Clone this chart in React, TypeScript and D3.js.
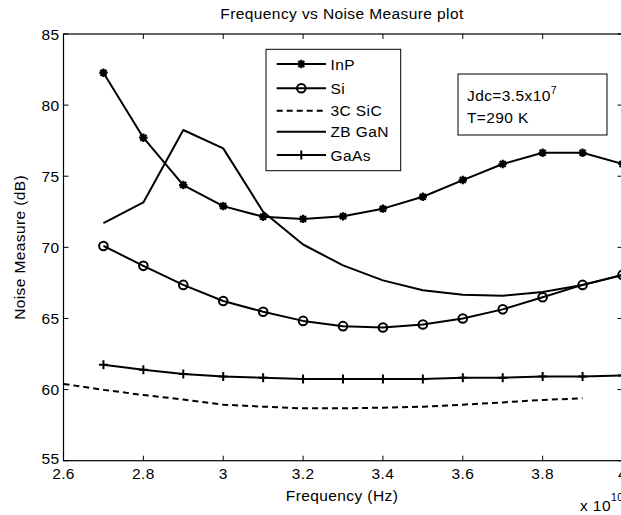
import React from 'react';
import * as d3 from 'd3';

const freqs = [2.7, 2.8, 2.9, 3.0, 3.1, 3.2, 3.3, 3.4, 3.5, 3.6, 3.7, 3.8, 3.9, 4.0];
const sicFreqs = [2.6, 2.7, 2.8, 2.9, 3.0, 3.1, 3.2, 3.3, 3.4, 3.5, 3.6, 3.7, 3.8, 3.9];
const inpValues = [82.28, 77.71, 74.38, 72.9, 72.15, 72.0, 72.18, 72.72, 73.56, 74.73, 75.86, 76.65, 76.65, 75.86];
const siValues = [70.1, 68.7, 67.36, 66.23, 65.47, 64.83, 64.46, 64.36, 64.58, 65.0, 65.64, 66.49, 67.36, 68.06];
const sic3cValues = [60.4, 59.98, 59.62, 59.3, 58.94, 58.8, 58.68, 58.68, 58.73, 58.8, 58.94, 59.1, 59.27, 59.39];
const zbGanValues = [71.7, 73.16, 78.25, 76.96, 72.5, 70.2, 68.73, 67.68, 66.98, 66.67, 66.6, 66.86, 67.35, 68.05];
const gaasValues = [61.75, 61.39, 61.1, 60.92, 60.83, 60.75, 60.75, 60.75, 60.75, 60.83, 60.83, 60.92, 60.92, 60.99];
const seriesNames = ['InP', 'Si', '3C SiC', 'ZB GaN', 'GaAs'];
const xTicks = [2.6, 2.8, 3.0, 3.2, 3.4, 3.6, 3.8, 4.0];
const yTicks = [55, 60, 65, 70, 75, 80, 85];

const FONT = '"Liberation Sans", Arial, sans-serif';
const FS = 15.5;
const LS = 0.4;

type Marker = 'star' | 'circle' | 'plus' | 'none';

function MarkerShape({ type, cx, cy }: { type: Marker; cx: number; cy: number }) {
  if (type === 'circle') {
    return <circle cx={cx} cy={cy} r={4.3} fill="none" stroke="#000" strokeWidth={2} />;
  }
  if (type === 'plus') {
    const s = 4.5;
    return (
      <path d={`M${cx - s},${cy}H${cx + s}M${cx},${cy - s}V${cy + s}`} stroke="#000" strokeWidth={2} fill="none" />
    );
  }
  if (type === 'star') {
    const s = 4.2;
    const d = 3;
    return (
      <path
        d={`M${cx - s},${cy}H${cx + s}M${cx},${cy - s}V${cy + s}M${cx - d},${cy - d}L${cx + d},${cy + d}M${cx - d},${cy + d}L${cx + d},${cy - d}`}
        stroke="#000"
        strokeWidth={2.2}
        fill="none"
      />
    );
  }
  return null;
}

export default function App() {
  const W = 621;
  const H = 515;
  const L = 63.5, R = 622.5, T = 34, B = 460.7;
  const x = d3.scaleLinear().domain([2.6, 4.0]).range([L, R]);
  const y = d3.scaleLinear().domain([55, 85]).range([B, T]);
  const line = d3.line<[number, number]>().x(d => x(d[0])).y(d => y(d[1]));

  const series: { name: string; xs: number[]; ys: number[]; marker: Marker; dash?: string }[] = [
    { name: seriesNames[0], xs: freqs, ys: inpValues, marker: 'star' },
    { name: seriesNames[1], xs: freqs, ys: siValues, marker: 'circle' },
    { name: seriesNames[2], xs: sicFreqs, ys: sic3cValues, marker: 'none', dash: '6,4' },
    { name: seriesNames[3], xs: freqs, ys: zbGanValues, marker: 'none' },
    { name: seriesNames[4], xs: freqs, ys: gaasValues, marker: 'plus' },
  ];

  const tickLen = 5;
  const fmtX = (v: number) => d3.format('~g')(+v.toFixed(1));

  const legX = 266, legY = 49.3, legW = 134.7, legH = 121.4;
  const legRows = [64, 88.3, 110.7, 131.7, 155];

  return (
    <svg width={W} height={H} style={{ position: 'absolute', left: 0, top: 0, background: '#fff' }} fontFamily={FONT} letterSpacing={LS}>
      <rect x={0} y={0} width={W} height={H} fill="#fff" />
      <text x={(L + R) / 2 - 1} y={19} textAnchor="middle" fontSize={FS}>Frequency vs Noise Measure plot</text>

      {/* axes box */}
      <rect x={L} y={T} width={R - L} height={B - T} fill="none" stroke="#000" strokeWidth={1.2} />

      {/* x ticks */}
      {xTicks.map(t => (
        <g key={'x' + t}>
          <line x1={x(t)} x2={x(t)} y1={B} y2={B - tickLen} stroke="#000" strokeWidth={1} />
          <line x1={x(t)} x2={x(t)} y1={T} y2={T + tickLen} stroke="#000" strokeWidth={1} />
          <text x={x(t)} y={B + 18.5} textAnchor="middle" fontSize={FS}>{fmtX(t)}</text>
        </g>
      ))}
      {/* y ticks */}
      {yTicks.map(t => (
        <g key={'y' + t}>
          <line x1={L} x2={L + tickLen} y1={y(t)} y2={y(t)} stroke="#000" strokeWidth={1} />
          <line x1={R} x2={R - tickLen} y1={y(t)} y2={y(t)} stroke="#000" strokeWidth={1} />
          <text x={L - 4} y={y(t) + (t === 55 ? 3 : 5.5)} textAnchor="end" fontSize={FS}>{t}</text>
        </g>
      ))}

      <text x={(L + R) / 2 - 1} y={501} textAnchor="middle" fontSize={FS}>Frequency (Hz)</text>
      <text x={580} y={511} fontSize={FS}>x 10</text>
      <text x={611} y={501} fontSize={10.5}>10</text>
      <text transform={`translate(25,${(T + B) / 2}) rotate(-90)`} textAnchor="middle" fontSize={FS}>Noise Measure (dB)</text>

      {/* series */}
      {series.map(s => {
        const pts: [number, number][] = s.xs.map((v, i) => [v, s.ys[i]]);
        return (
          <g key={s.name}>
            <path d={line(pts) || ''} fill="none" stroke="#000" strokeWidth={2} strokeDasharray={s.dash} strokeLinejoin="round" />
            {s.marker !== 'none' && pts.map((p, i) => <MarkerShape key={i} type={s.marker} cx={x(p[0])} cy={y(p[1])} />)}
          </g>
        );
      })}

      {/* legend */}
      <rect x={legX} y={legY} width={legW} height={legH} fill="#fff" stroke="#000" strokeWidth={1} />
      {series.map((s, i) => (
        <g key={'leg' + s.name}>
          <line x1={276.7} x2={326} y1={legRows[i]} y2={legRows[i]} stroke="#000" strokeWidth={2} strokeDasharray={s.dash} />
          <MarkerShape type={s.marker} cx={301.3} cy={legRows[i]} />
          <text x={330.5} y={legRows[i] + 5.5} fontSize={FS}>{s.name}</text>
        </g>
      ))}

      {/* annotation */}
      <rect x={458} y={74} width={149} height={61} fill="#fff" stroke="#000" strokeWidth={1} />
      <text x={467} y={101} fontSize={FS}>Jdc=3.5x10<tspan dy={-7} fontSize={10.5}>7</tspan></text>
      <text x={467} y={123} fontSize={FS}>T=290 K</text>
    </svg>
  );
}
